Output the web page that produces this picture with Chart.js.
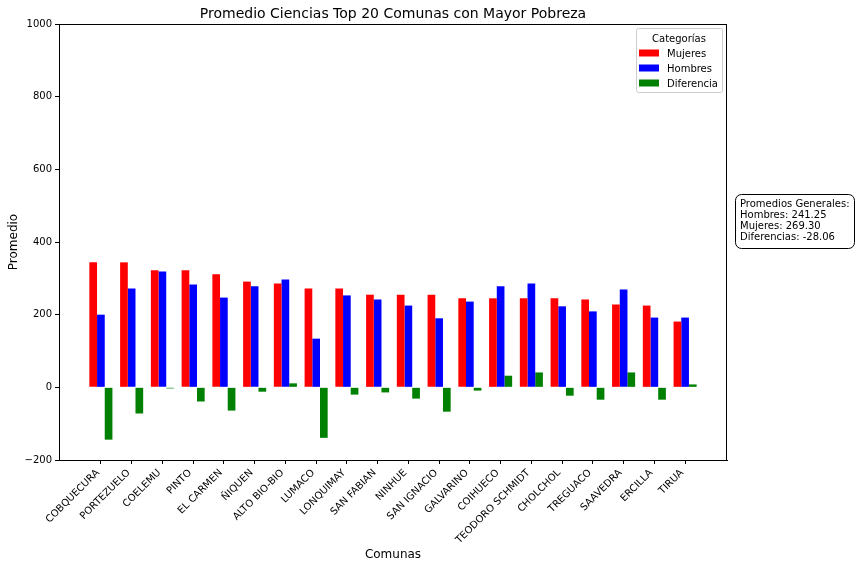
<!DOCTYPE html>
<html>
<head>
<meta charset="utf-8">
<script src="https://cdn.jsdelivr.net/npm/chart.js@4.4.1/dist/chart.umd.min.js"></script>
<style>
html,body{margin:0;padding:0;background:#fff;}
#wrap{width:856px;height:568px;}
</style>
</head>
<body>
<div id="wrap"><canvas id="c" width="856" height="568"></canvas></div>
<script>
const categories = ['COBQUECURA','PORTEZUELO','COELEMU','PINTO','EL CARMEN','ÑIQUEN','ALTO BIO-BIO','LUMACO','LONQUIMAY','SAN FABIAN','NINHUE','SAN IGNACIO','GALVARINO','COIHUECO','TEODORO SCHMIDT','CHOLCHOL','TREGUACO','SAAVEDRA','ERCILLA','TIRUA'];
const mujeres    = [344, 344, 322, 322, 311, 291, 286, 272, 272, 255, 255, 255, 245, 245, 245, 245, 242, 228, 225, 181];
const hombres    = [200, 272, 319, 283, 247, 278, 297, 134, 253, 242, 225, 190, 236, 278, 286, 223, 209, 269, 192, 192];
const diferencia = [-144, -72, -3, -39, -64, -12, 11, -139, -20, -14, -31, -67, -9, 32, 41, -23, -34, 41, -34, 8];
const seriesNames = ['Mujeres','Hombres','Diferencia'];
const seriesColors = ['#ff0000','#0000ff','#008000'];
const yTicks = [-200, 0, 200, 400, 600, 800, 1000];
const titleText = 'Promedio Ciencias Top 20 Comunas con Mayor Pobreza';
const legendTitle = 'Categorías';
const noteLines = ['Promedios Generales:','Hombres: 241.25','Mujeres: 269.30','Diferencias: -28.06'];

Chart.defaults.font.family = '"DejaVu Sans", sans-serif';
Chart.defaults.color = '#000';

function roundRect(ctx, x, y, w, h, r) {
  ctx.beginPath();
  ctx.moveTo(x + r, y);
  ctx.lineTo(x + w - r, y);
  ctx.arcTo(x + w, y, x + w, y + r, r);
  ctx.lineTo(x + w, y + h - r);
  ctx.arcTo(x + w, y + h, x + w - r, y + h, r);
  ctx.lineTo(x + r, y + h);
  ctx.arcTo(x, y + h, x, y + h - r, r);
  ctx.lineTo(x, y + r);
  ctx.arcTo(x, y, x + r, y, r);
  ctx.closePath();
}

const overlay = {
  id: 'overlay',
  afterDraw(chart) {
    const ctx = chart.ctx, a = chart.chartArea;
    ctx.save();
    // frame
    ctx.strokeStyle = '#000';
    ctx.lineWidth = 1;
    ctx.strokeRect(Math.round(a.left) + 0.5, Math.round(a.top) + 0.5, Math.round(a.right - a.left) - 1, Math.round(a.bottom - a.top));
    // title
    ctx.fillStyle = '#000';
    ctx.font = '14px "DejaVu Sans"';
    ctx.textAlign = 'center';
    ctx.textBaseline = 'alphabetic';
    ctx.fillText(titleText, (a.left + a.right) / 2, a.top - 6);
    // legend
    const lx = a.right - 91, ly = a.top + 4, lw = 86, lh = 64;
    roundRect(ctx, lx + 0.5, ly + 0.5, lw, lh, 2);
    ctx.fillStyle = 'rgba(255,255,255,0.8)';
    ctx.fill();
    ctx.strokeStyle = '#cccccc';
    ctx.stroke();
    ctx.fillStyle = '#000';
    ctx.font = '10px "DejaVu Sans"';
    ctx.textAlign = 'center';
    ctx.fillText(legendTitle, lx + lw / 2, ly + 14.3);
    ctx.textAlign = 'left';
    seriesNames.forEach((n, i) => {
      const cy = ly + 25 + i * 15;
      ctx.fillStyle = seriesColors[i];
      ctx.fillRect(lx + 3, cy - 3.5, 20, 7);
      ctx.fillStyle = '#000';
      ctx.fillText(n, lx + 31, ly + 29.3 + i * 15);
    });
    // note box
    const bx = 735, by = 194, bw = 119, bh = 54;
    roundRect(ctx, bx + 0.5, by + 0.5, bw, bh, 6);
    ctx.fillStyle = '#fff';
    ctx.fill();
    ctx.strokeStyle = '#000';
    ctx.stroke();
    ctx.fillStyle = '#000';
    noteLines.forEach((t, i) => ctx.fillText(t, bx + 5, by + 13 + i * 11.1));
    ctx.restore();
  }
};

const datasets = [mujeres, hombres, diferencia].map((vals, k) => ({
  label: seriesNames[k],
  data: vals.map((v, i) => ({x: i, y: v})),
  backgroundColor: seriesColors[k],
  borderWidth: 0,
  categoryPercentage: 0.75,
  barPercentage: 1.0
}));

new Chart(document.getElementById('c'), {
  type: 'bar',
  data: { datasets },
  plugins: [overlay],
  options: {
    responsive: false,
    animation: false,
    devicePixelRatio: 1,
    layout: { padding: { top: 24, right: 129, left: 0, bottom: 0 } },
    plugins: { legend: { display: false }, title: { display: false }, tooltip: { enabled: false } },
    scales: {
      x: {
        type: 'linear',
        min: -1.3625,
        max: 20.3625,
        offset: false,
        afterBuildTicks: s => { s.ticks = categories.map((c, i) => ({ value: i })); },
        afterFit: s => { s.height = 108; },
        ticks: {
          callback: v => (categories[v] !== undefined ? categories[v] : ''),
          autoSkip: false, minRotation: 45, maxRotation: 45,
          font: { size: 10 }, color: '#000', padding: 3, labelOffset: -3
        },
        grid: { offset: false, drawOnChartArea: false, drawTicks: true, tickLength: 4, color: '#000' },
        border: { display: true, color: '#000' },
        title: { display: true, text: 'Comunas', font: { size: 12 }, color: '#000', padding: { top: 0, bottom: 6 } }
      },
      y: {
        min: -200,
        max: 1000,
        afterBuildTicks: s => { s.ticks = yTicks.map(v => ({ value: v })); },
        afterFit: s => { s.width = 59; },
        ticks: { font: { size: 10 }, color: '#000', padding: 3, callback: v => (v < 0 ? '\u2212' + Math.abs(v) : String(v)) },
        grid: { offset: false, drawOnChartArea: false, drawTicks: true, tickLength: 4, color: '#000' },
        border: { display: true, color: '#000' },
        title: { display: true, text: 'Promedio', font: { size: 12 }, color: '#000', padding: { top: 7, bottom: 0 } }
      }
    }
  }
});
</script>
</body>
</html>
